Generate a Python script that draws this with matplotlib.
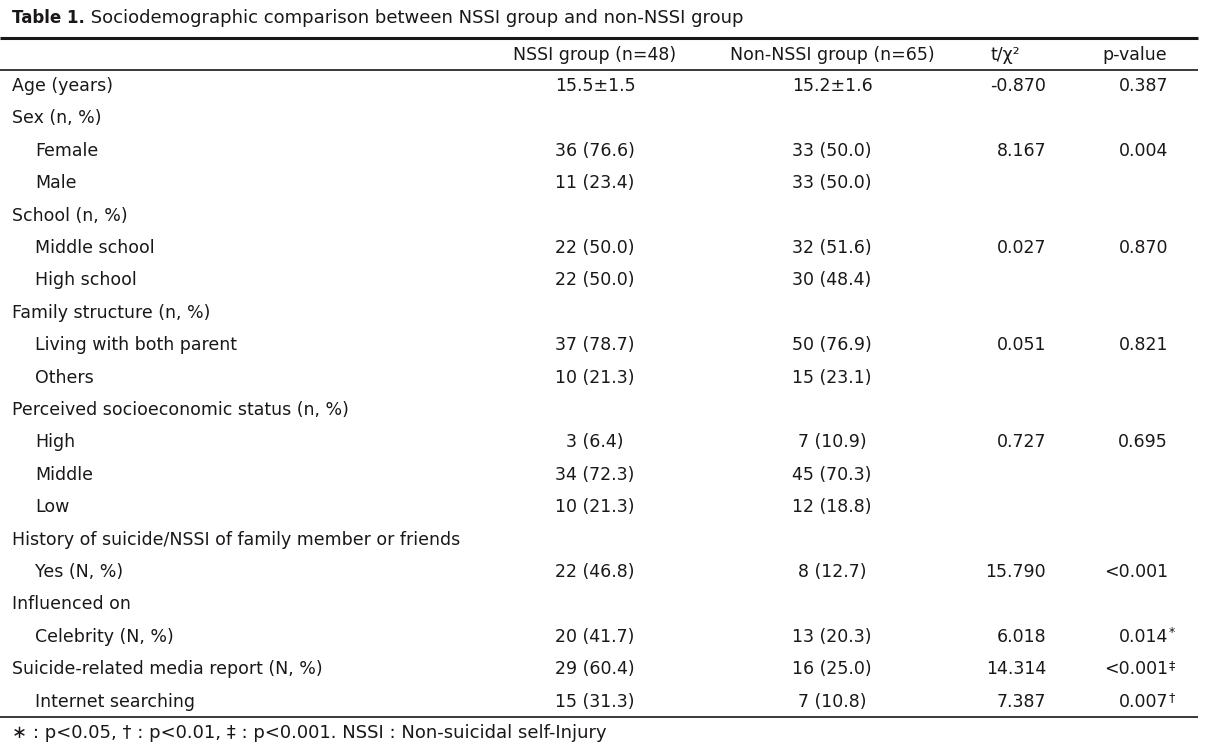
import matplotlib
matplotlib.use("Agg")
import matplotlib.pyplot as plt

plt.rcParams['font.family'] = ['DejaVu Sans']

title_bold = "Table 1."
title_rest = " Sociodemographic comparison between NSSI group and non-NSSI group"
headers = ["NSSI group (n=48)", "Non-NSSI group (n=65)", "t/χ²", "p-value"]

labels = ["Age (years)", "Sex (n, %)", "Female", "Male", "School (n, %)",
          "Middle school", "High school", "Family structure (n, %)",
          "Living with both parent", "Others",
          "Perceived socioeconomic status (n, %)", "High", "Middle", "Low",
          "History of suicide/NSSI of family member or friends", "Yes (N, %)",
          "Influenced on", "Celebrity (N, %)", "Suicide-related media report (N, %)",
          "Internet searching"]
indent = [0, 0, 1, 1, 0, 1, 1, 0, 1, 1, 0, 1, 1, 1, 0, 1, 0, 1, 0, 1]
nssi = ["15.5±1.5", "", "36 (76.6)", "11 (23.4)", "", "22 (50.0)", "22 (50.0)", "",
        "37 (78.7)", "10 (21.3)", "", "3 (6.4)", "34 (72.3)", "10 (21.3)", "",
        "22 (46.8)", "", "20 (41.7)", "29 (60.4)", "15 (31.3)"]
non_nssi = ["15.2±1.6", "", "33 (50.0)", "33 (50.0)", "", "32 (51.6)", "30 (48.4)", "",
            "50 (76.9)", "15 (23.1)", "", "7 (10.9)", "45 (70.3)", "12 (18.8)", "",
            "8 (12.7)", "", "13 (20.3)", "16 (25.0)", "7 (10.8)"]
stat = ["-0.870", "", "8.167", "", "", "0.027", "", "", "0.051", "", "", "0.727", "", "",
        "", "15.790", "", "6.018", "14.314", "7.387"]
pval = ["0.387", "", "0.004", "", "", "0.870", "", "", "0.821", "", "", "0.695", "", "",
        "", "<0.001", "", "0.014", "<0.001", "0.007"]
sig = ["", "", "", "", "", "", "", "", "", "", "", "", "", "", "", "", "", "*", "‡", "†"]
footnote = "∗ : p<0.05, † : p<0.01, ‡ : p<0.001. NSSI : Non-suicidal self-Injury"

W, H = 1211, 752
fig = plt.figure(figsize=(W / 100, H / 100), dpi=100)
ax = fig.add_axes([0, 0, 1, 1])
ax.set_xlim(0, W)
ax.set_ylim(H, 0)
ax.axis("off")

fs = 12.5
col = "#1a1718"

# title
t1 = ax.text(12, 18, title_bold, fontsize=12, fontweight="bold", va="center", ha="left", color=col)
fig.canvas.draw()
bb = t1.get_window_extent()
x_after = bb.x1
ax.annotate(title_rest, xy=(x_after, 0), xycoords="figure pixels", xytext=(x_after, H - 18),
            textcoords="figure pixels", fontsize=13, va="center", ha="left", color=col)

# rules
ax.plot([0, 1198], [38, 38], color=col, lw=2.2, solid_capstyle="butt")
ax.plot([0, 1198], [70, 70], color=col, lw=1.2, solid_capstyle="butt")
ax.plot([0, 1198], [717, 717], color=col, lw=1.2, solid_capstyle="butt")

# header
hy = 55
ax.text(595, hy, headers[0], fontsize=fs, ha="center", va="center", color=col)
ax.text(832, hy, headers[1], fontsize=fs, ha="center", va="center", color=col)
ax.text(1005, hy, headers[2], fontsize=fs, ha="center", va="center", color=col)
ax.text(1135, hy, headers[3], fontsize=fs, ha="center", va="center", color=col)

y0, dy = 86, 32.4
for i, lab in enumerate(labels):
    y = y0 + i * dy
    ax.text(12 + 23 * indent[i], y, lab, fontsize=fs, ha="left", va="center", color=col)
    if nssi[i]:
        ax.text(595, y, nssi[i], fontsize=fs, ha="center", va="center", color=col)
    if non_nssi[i]:
        ax.text(832, y, non_nssi[i], fontsize=fs, ha="center", va="center", color=col)
    if stat[i]:
        ax.text(1046, y, stat[i], fontsize=fs, ha="right", va="center", color=col)
    if pval[i]:
        ax.text(1168, y, pval[i], fontsize=fs, ha="right", va="center", color=col)
    if sig[i]:
        ax.text(1169, y - 4, sig[i], fontsize=9, ha="left", va="center", color=col)

ax.text(12, 733, footnote, fontsize=13, ha="left", va="center", color=col)

fig.savefig("out.png", dpi=100)
